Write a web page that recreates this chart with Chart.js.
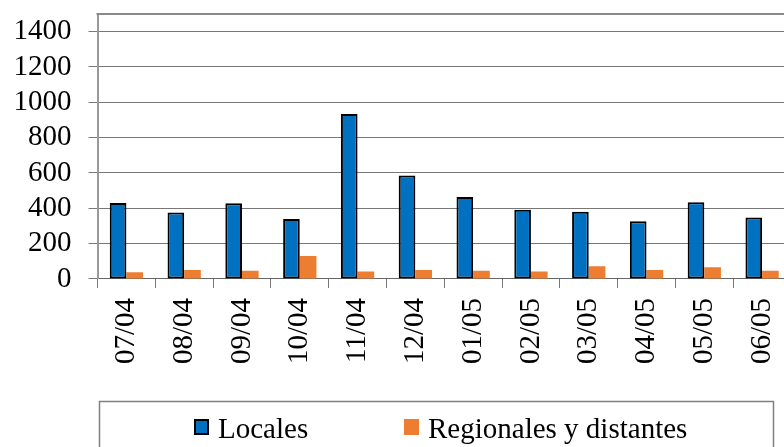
<!DOCTYPE html>
<html>
<head>
<meta charset="utf-8">
<script src="https://cdn.jsdelivr.net/npm/chart.js@4.4.0/dist/chart.umd.min.js"></script>
<style>
  html, body { margin: 0; padding: 0; background: #fff; overflow: hidden; }
  #wrap { width: 784px; height: 447px; overflow: hidden; }
</style>
</head>
<body>
<div id="wrap"><canvas id="myChart" width="800" height="447"></canvas></div>
<script>
// meses (mm/aa)
var meses = ["07/04", "08/04", "09/04", "10/04", "11/04", "12/04",
             "01/05", "02/05", "03/05", "04/05", "05/05", "06/05"];
var locales = [430, 376, 429, 339, 934, 586, 464, 392, 380, 327, 434, 348];
var regionales = [38, 50, 46, 130, 42, 50, 46, 42, 72, 51, 66, 46];
var ejeMax = 1500;
var ejePaso = 200;

var fuente = "'Liberation Serif', 'Times New Roman', serif";

// borde superior del area de trazado
var bordeArriba = {
  id: "bordeArriba",
  afterDraw: function (chart) {
    var a = chart.chartArea, ctx = chart.ctx;
    ctx.save();
    ctx.strokeStyle = "#8a8a8a";
    ctx.lineWidth = 2;
    ctx.beginPath();
    ctx.moveTo(a.left - 1, a.top);
    ctx.lineTo(chart.width, a.top);
    ctx.stroke();
    ctx.restore();
  }
};

// leyenda con marco, como en la hoja original
var leyenda = {
  id: "leyenda",
  afterDraw: function (chart) {
    var ctx = chart.ctx;
    var xs = [194, 404];
    ctx.save();
    ctx.strokeStyle = "#808080";
    ctx.lineWidth = 1.5;
    ctx.strokeRect(99.5, 401.5, 674, 80);
    ctx.font = "29px " + fuente;
    ctx.textBaseline = "alphabetic";
    chart.data.datasets.forEach(function (ds, i) {
      var x = xs[i];
      ctx.fillStyle = ds.backgroundColor;
      ctx.fillRect(x, 419, 15, 16);
      if (ds.borderWidth) {
        ctx.strokeStyle = ds.borderColor;
        ctx.lineWidth = 2;
        ctx.strokeRect(x + 1, 420, 13, 14);
      }
      ctx.fillStyle = "#000";
      ctx.fillText(ds.label, x + 24, 438);
    });
    ctx.restore();
  }
};

new Chart(document.getElementById("myChart"), {
  type: "bar",
  data: {
    labels: meses,
    datasets: [
      {
        label: "Locales",
        data: locales,
        backgroundColor: "#0070C0",
        borderColor: "#000000",
        borderWidth: 2,
        borderSkipped: false,
        categoryPercentage: 0.576,
        barPercentage: 1.0
      },
      {
        label: "Regionales y distantes",
        data: regionales,
        backgroundColor: "#ED7D31",
        borderWidth: 0,
        categoryPercentage: 0.576,
        barPercentage: 1.0
      }
    ]
  },
  options: {
    responsive: false,
    animation: false,
    layout: { padding: { left: 13.5, right: 9, top: 14, bottom: 73 } },
    plugins: {
      legend: { display: false },
      tooltip: { enabled: false }
    },
    scales: {
      x: {
        afterFit: function (s) { s.paddingLeft = 0; s.paddingRight = 0; },
        grid: {
          offset: true,
          drawOnChartArea: false,
          drawTicks: true,
          tickLength: 9,
          color: "#777"
        },
        border: { display: true, color: "#666", width: 1 },
        ticks: {
          autoSkip: false,
          maxRotation: 90,
          minRotation: 90,
          padding: 10,
          color: "#000",
          font: { family: fuente, size: 29 }
        }
      },
      y: {
        min: 0,
        max: ejeMax,
        afterFit: function (s) { s.paddingTop = 0; s.paddingBottom = 0; s.width = 84; },
        grid: { color: "#777", lineWidth: 1, tickLength: 9 },
        border: { display: true, color: "#999", width: 2 },
        ticks: {
          stepSize: ejePaso,
          includeBounds: false,
          autoSkip: false,
          padding: 17,
          color: "#000",
          font: { family: fuente, size: 29 },
          callback: function (v) { return String(v); }
        }
      }
    }
  },
  plugins: [bordeArriba, leyenda]
});
</script>
</body>
</html>
